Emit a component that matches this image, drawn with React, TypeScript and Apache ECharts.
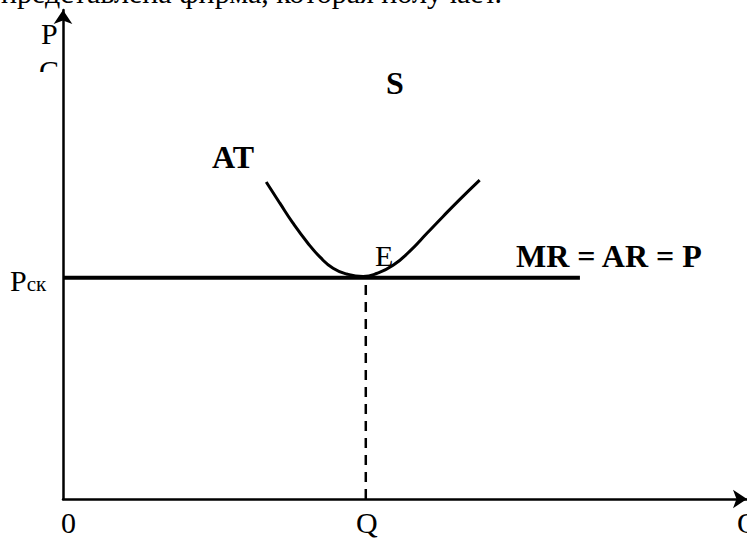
import React, { useEffect, useRef } from "react";
import * as echarts from "echarts";

// Data in arbitrary units: quantity (x) 0..10, price/cost (y) 0..10
const qEquilibrium = 4.44;
const pMarket = 4.59;
const mrLineEnd = 7.58;
const atCurve: [number, number][] = [
  [2.98, 6.58],
  [3.18, 6.14],
  [3.37, 5.73],
  [3.58, 5.33],
  [3.77, 5.02],
  [3.96, 4.79],
  [4.16, 4.67],
  [4.40, 4.62],
  [4.60, 4.68],
  [4.84, 4.85],
  [5.09, 5.15],
  [5.34, 5.52],
  [5.57, 5.86],
  [5.82, 6.22],
  [6.11, 6.62],
];
const mrLine: [number, number][] = [
  [0, pMarket],
  [mrLineEnd, pMarket],
];
const dropLine: [number, number][] = [
  [qEquilibrium, 0],
  [qEquilibrium, pMarket],
];

const FONT = "Liberation Serif";

export default function App() {
  const ref = useRef<HTMLDivElement>(null);
  useEffect(() => {
    if (!ref.current) return;
    const chart = echarts.init(ref.current, null, { renderer: "svg" });
    const txt = (x: number, y: number, text: string, size: number, bold = false, extra: any = {}) => ({
      type: "text",
      x,
      y,
      style: {
        text,
        fontFamily: FONT,
        fontSize: size,
        fontWeight: bold ? "bold" : "normal",
        fill: "#000",
        verticalAlign: "top",
        ...extra,
      },
      z: 100,
    });
    chart.setOption({
      animation: false,
      backgroundColor: "#fff",
      grid: { left: 63, right: 0, top: 10, bottom: 39 },
      xAxis: {
        type: "value",
        min: 0,
        max: 10.03,
        axisLine: {
          show: true,
          symbol: ["none", "arrow"],
          symbolSize: [14, 14],
          lineStyle: { color: "#000", width: 2.5 },
        },
        axisTick: { show: false },
        axisLabel: { show: false },
        splitLine: { show: false },
      },
      yAxis: {
        type: "value",
        min: 0,
        max: 10.15,
        axisLine: {
          show: true,
          symbol: ["none", "arrow"],
          symbolSize: [14, 14],
          lineStyle: { color: "#000", width: 2.5 },
        },
        axisTick: { show: false },
        axisLabel: { show: false },
        splitLine: { show: false },
      },
      series: [
        {
          type: "line",
          data: atCurve,
          smooth: true,
          showSymbol: false,
          lineStyle: { color: "#000", width: 3 },
        },
        {
          type: "line",
          data: mrLine,
          showSymbol: false,
          lineStyle: { color: "#000", width: 4 },
        },
        {
          type: "line",
          data: dropLine,
          showSymbol: false,
          lineStyle: { color: "#000", width: 2.5, type: [10, 7] },
        },
      ],
      graphic: [
        txt(502, -23, "представлена фирма, которая получает.", 30, false, { align: "right" }),
        txt(41, 18, "P", 30),
        txt(39, 55, "C", 30),
        { type: "rect", shape: { x: 30, y: 72, width: 30, height: 22 }, style: { fill: "#fff" }, z: 101 },
        txt(386, 67, "S", 32, true),
        txt(212, 141, "AT", 32, true),
        txt(375, 240, "E", 30),
        txt(516, 240, "MR = AR = P", 32, true),
        {
          type: "text",
          x: 10,
          y: 265,
          style: {
            text: "{a|P}{b|ск}",
            verticalAlign: "top",
            rich: {
              a: { fontFamily: FONT, fontSize: 30, fill: "#000", verticalAlign: "bottom" },
              b: { fontFamily: FONT, fontSize: 21, fill: "#000", verticalAlign: "bottom", padding: [0, 0, 1, 0] },
            },
          },
          z: 100,
        },
        txt(61, 507, "0", 30),
        txt(356, 507, "Q", 30),
        txt(737, 507, "Q", 30),
      ],
    });
    return () => chart.dispose();
  }, []);
  return <div ref={ref} style={{ width: 747, height: 538, position: "absolute", left: 0, top: 0 }} />;
}
